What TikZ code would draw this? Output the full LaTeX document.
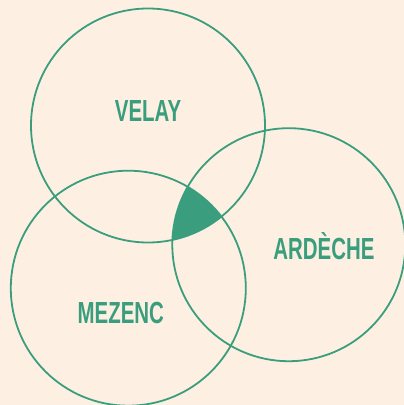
\documentclass[tikz,border=0pt]{standalone}
\usepackage{fontspec}
\newfontfamily\condfont[FakeStretch=0.67]{Liberation Sans}
\definecolor{bgc}{HTML}{FDF0E2}
\definecolor{grn}{HTML}{3A9E7E}
\begin{document}
\begin{tikzpicture}[x=1pt,y=-1pt,
  ring/.style={circle,draw=grn,line width=1.8pt,inner sep=0pt},
  lbl/.style={text=grn,font=\condfont\bfseries\fontsize{30.5}{30}\selectfont,inner sep=0pt,anchor=base}]
\fill[bgc] (0,0) rectangle (404,405);
\useasboundingbox (0,0) rectangle (404,405);
\begin{scope}
  \clip (148,125.5) circle (117);
  \clip (288.8,244.7) circle (116.5);
  \fill[grn] (128.3,288.2) circle (117.5);
\end{scope}
\node[ring,minimum size=234pt] (velay) at (148,125.5) {};
\node[ring,minimum size=233pt] (ardeche) at (288.8,244.7) {};
\node[ring,minimum size=235pt] (mezenc) at (128.3,288.2) {};
\node[lbl] (tv) at (148,121.7) {VELAY};
\node[lbl] (ta) at (324,259.3) {ARDÈCHE};
\node[lbl] (tm) at (120.8,323.3) {MEZENC};
\end{tikzpicture}
\end{document}
